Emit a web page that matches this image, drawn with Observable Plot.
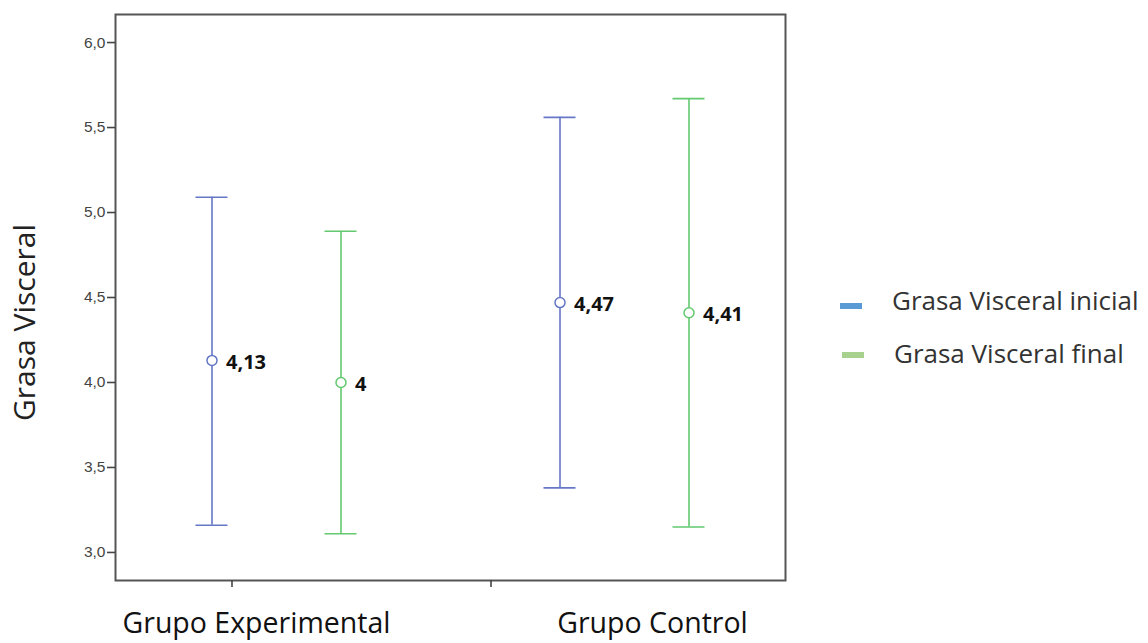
<!DOCTYPE html>
<html><head><meta charset="utf-8">
<script src="https://cdn.jsdelivr.net/npm/d3@7"></script>
<script src="https://cdn.jsdelivr.net/npm/@observablehq/plot@0.6"></script>
<style>
body{margin:0;background:#fff;}
#wrap{position:relative;width:1148px;height:643px;overflow:hidden;}
.leg{position:absolute;font-family:"Open Sans",sans-serif;font-size:26px;color:#333;line-height:1;white-space:nowrap;}
.sw{position:absolute;width:22px;height:6px;}
</style></head><body><div id="wrap"></div>
<script>
const groups = ["Grupo Experimental", "Grupo Control"];
const seriesNames = ["Grasa Visceral inicial", "Grasa Visceral final"];
const meanInicial = [4.13, 4.47];
const lowInicial = [3.16, 3.38];
const highInicial = [5.09, 5.56];
const labelInicial = ["4,13", "4,47"];
const meanFinal = [4.00, 4.41];
const lowFinal = [3.11, 3.15];
const highFinal = [4.89, 5.67];
const labelFinal = ["4", "4,41"];
const yTicks = [3.0, 3.5, 4.0, 4.5, 5.0, 5.5, 6.0];
const yLabel = "Grasa Visceral";

const lineColors = ["#6577c6", "#62c96e"];
const legendColors = ["#5b9bd5", "#a9d18e"];

const rows = (means, lows, highs, labels) => groups.map((g, i) => ({g: i, mean: means[i], lo: lows[i], hi: highs[i], label: labels[i]}));
const inicial = rows(meanInicial, lowInicial, highInicial, labelInicial);
const final = rows(meanFinal, lowFinal, highFinal, labelFinal);

const unitPx = 348; // pixels per group step
const capHalf = 16 / unitPx;

function seriesMarks(data, color, dx, labelDx) {
  return [
    Plot.ruleX(data, {x: "g", y1: "lo", y2: "hi", stroke: color, strokeWidth: 1.6, dx}),
    Plot.ruleY(data, {y: "hi", x1: d => d.g - capHalf, x2: d => d.g + capHalf, stroke: color, strokeWidth: 1.6, dx}),
    Plot.ruleY(data, {y: "lo", x1: d => d.g - capHalf, x2: d => d.g + capHalf, stroke: color, strokeWidth: 1.6, dx}),
    Plot.dot(data, {x: "g", y: "mean", r: 5, stroke: color, fill: "white", strokeWidth: 1.5, dx}),
    Plot.text(data, {x: "g", y: "mean", text: "label", textAnchor: "start", dx: dx + labelDx, dy: 2, fontSize: 20, fontWeight: "bold", fill: "#111", fontFamily: "Open Sans"})
  ];
}

const xLabelStyle = {tickSize: 0, tickPadding: 32, fontSize: 28.5, fill: "#111", label: null, fontFamily: "Open Sans"};
const xTickStyle = {tickFormat: () => "", tickSize: 7, stroke: "#444", strokeWidth: 1.6, label: null};

const chart = Plot.plot({
  width: 1148, height: 643,
  marginLeft: 115, marginRight: 363, marginTop: 14, marginBottom: 63,
  style: {fontFamily: "Liberation Sans", background: "white"},
  x: {type: "linear", domain: [-0.4626, 1.4626], axis: null},
  y: {domain: [2.835, 6.165], axis: null},
  marks: [
    Plot.frame({stroke: "#555", strokeWidth: 2}),
    Plot.axisY({ticks: yTicks, tickFormat: d => d.toFixed(1).replace(".", ","), tickSize: 8, tickPadding: 2, fontSize: 15.5, fill: "#444", stroke: "#444", strokeWidth: 1.6, label: null}),
    Plot.axisX({ticks: [0], ...xTickStyle, dx: -44.5}),
    Plot.axisX({ticks: [1], ...xTickStyle, dx: -133.5}),
    Plot.axisX({ticks: [0], tickFormat: i => groups[i], ...xLabelStyle, dx: -20}),
    Plot.axisX({ticks: [1], tickFormat: i => groups[i], ...xLabelStyle, dx: 28}),
    Plot.text([yLabel], {frameAnchor: "left", text: d => d, rotate: -90, textAnchor: "middle", dx: -90, dy: 25, fontSize: 30, fill: "#222", fontFamily: "Open Sans"}),
    ...seriesMarks(inicial, lineColors[0], -64.5, 14),
    ...seriesMarks(final, lineColors[1], 64.5, 14)
  ]
});
const wrap = document.getElementById("wrap");
wrap.appendChild(chart);

const legendPos = [{sx: 840, sy: 303, tx: 892, ty: 287}, {sx: 842, sy: 352, tx: 894, ty: 340}];
seriesNames.forEach((name, i) => {
  const sw = document.createElement("div");
  sw.className = "sw";
  sw.style.left = legendPos[i].sx + "px";
  sw.style.top = legendPos[i].sy + "px";
  sw.style.background = legendColors[i];
  wrap.appendChild(sw);
  const t = document.createElement("div");
  t.className = "leg";
  t.style.left = legendPos[i].tx + "px";
  t.style.top = legendPos[i].ty + "px";
  t.textContent = name;
  wrap.appendChild(t);
});
chart.style.position = "absolute";
chart.style.left = "0";
chart.style.top = "0";
</script>
</body></html>
